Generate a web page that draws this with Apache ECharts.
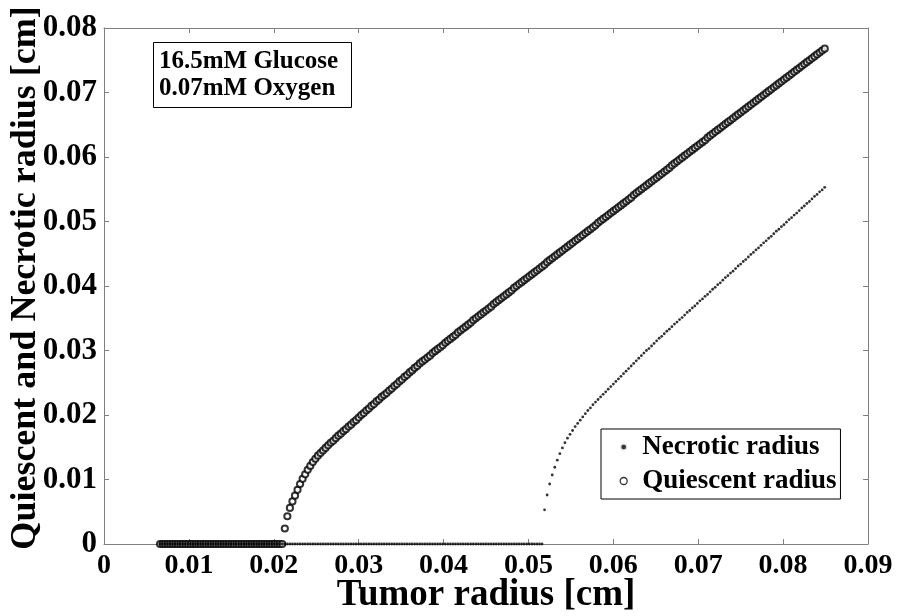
<!DOCTYPE html>
<html>
<head>
<meta charset="utf-8">
<script src="https://cdn.jsdelivr.net/npm/echarts@6/dist/echarts.min.js"></script>
<style>
html,body{margin:0;padding:0;background:#fff;}
#chart{width:899px;height:616px;}
</style>
</head>
<body>
<div id="chart"></div>
<script>
// Tumor radius samples [cm] (x values shared by both series)
var tumorRadius = [
0.0066,0.0069,0.0072,0.0075,0.0078,0.0081,0.0084,0.0087,0.0090,0.0093,
0.0096,0.0099,0.0102,0.0105,0.0108,0.0111,0.0114,0.0117,0.0120,0.0123,
0.0126,0.0129,0.0132,0.0135,0.0138,0.0141,0.0144,0.0147,0.0150,0.0153,
0.0156,0.0159,0.0162,0.0165,0.0168,0.0171,0.0174,0.0177,0.0180,0.0183,
0.0186,0.0189,0.0192,0.0195,0.0198,0.0201,0.0204,0.0207,0.0210,0.0213,
0.0216,0.0219,0.0222,0.0225,0.0228,0.0231,0.0234,0.0237,0.0240,0.0243,
0.0246,0.0249,0.0252,0.0255,0.0258,0.0261,0.0264,0.0267,0.0270,0.0273,
0.0276,0.0279,0.0282,0.0285,0.0288,0.0291,0.0294,0.0297,0.0300,0.0303,
0.0306,0.0309,0.0312,0.0315,0.0318,0.0321,0.0324,0.0327,0.0330,0.0333,
0.0336,0.0339,0.0342,0.0345,0.0348,0.0351,0.0354,0.0357,0.0360,0.0363,
0.0366,0.0369,0.0372,0.0375,0.0378,0.0381,0.0384,0.0387,0.0390,0.0393,
0.0396,0.0399,0.0402,0.0405,0.0408,0.0411,0.0414,0.0417,0.0420,0.0423,
0.0426,0.0429,0.0432,0.0435,0.0438,0.0441,0.0444,0.0447,0.0450,0.0453,
0.0456,0.0459,0.0462,0.0465,0.0468,0.0471,0.0474,0.0477,0.0480,0.0483,
0.0486,0.0489,0.0492,0.0495,0.0498,0.0501,0.0504,0.0507,0.0510,0.0513,
0.0516,0.0519,0.0522,0.0525,0.0528,0.0531,0.0534,0.0537,0.0540,0.0543,
0.0546,0.0549,0.0552,0.0555,0.0558,0.0561,0.0564,0.0567,0.0570,0.0573,
0.0576,0.0579,0.0582,0.0585,0.0588,0.0591,0.0594,0.0597,0.0600,0.0603,
0.0606,0.0609,0.0612,0.0615,0.0618,0.0621,0.0624,0.0627,0.0630,0.0633,
0.0636,0.0639,0.0642,0.0645,0.0648,0.0651,0.0654,0.0657,0.0660,0.0663,
0.0666,0.0669,0.0672,0.0675,0.0678,0.0681,0.0684,0.0687,0.0690,0.0693,
0.0696,0.0699,0.0702,0.0705,0.0708,0.0711,0.0714,0.0717,0.0720,0.0723,
0.0726,0.0729,0.0732,0.0735,0.0738,0.0741,0.0744,0.0747,0.0750,0.0753,
0.0756,0.0759,0.0762,0.0765,0.0768,0.0771,0.0774,0.0777,0.0780,0.0783,
0.0786,0.0789,0.0792,0.0795,0.0798,0.0801,0.0804,0.0807,0.0810,0.0813,
0.0816,0.0819,0.0822,0.0825,0.0828,0.0831,0.0834,0.0837,0.0840,0.0843,
0.0846,0.0849
];

// Quiescent radius [cm]
var quiescentRadius = [
0,0,0,0,0,0,0,0,0,0,
0,0,0,0,0,0,0,0,0,0,
0,0,0,0,0,0,0,0,0,0,
0,0,0,0,0,0,0,0,0,0,
0,0,0,0,0,0,0,0,0,0.0024,
0.0043,0.0056,0.0066,0.0075,0.0084,0.0093,0.0101,0.0108,0.0115,0.0121,
0.0127,0.0132,0.0137,0.0141,0.0145,0.0149,0.0153,0.0157,0.0160,0.0164,
0.0168,0.0171,0.0175,0.0178,0.0182,0.0185,0.0189,0.0192,0.0196,0.0200,
0.0203,0.0207,0.0210,0.0214,0.0217,0.0221,0.0224,0.0228,0.0231,0.0234,
0.0238,0.0241,0.0245,0.0248,0.0252,0.0255,0.0259,0.0262,0.0266,0.0269,
0.0273,0.0276,0.0280,0.0283,0.0286,0.0289,0.0292,0.0296,0.0299,0.0302,
0.0305,0.0308,0.0312,0.0315,0.0318,0.0321,0.0324,0.0328,0.0331,0.0334,
0.0337,0.0340,0.0343,0.0347,0.0350,0.0353,0.0356,0.0359,0.0362,0.0365,
0.0368,0.0372,0.0375,0.0378,0.0381,0.0384,0.0387,0.0390,0.0393,0.0397,
0.0400,0.0403,0.0406,0.0409,0.0412,0.0415,0.0418,0.0421,0.0424,0.0427,
0.0430,0.0433,0.0437,0.0440,0.0443,0.0446,0.0449,0.0452,0.0455,0.0458,
0.0461,0.0464,0.0467,0.0470,0.0473,0.0476,0.0479,0.0482,0.0485,0.0488,
0.0491,0.0494,0.0498,0.0501,0.0504,0.0507,0.0510,0.0513,0.0516,0.0519,
0.0522,0.0525,0.0528,0.0531,0.0534,0.0537,0.0541,0.0544,0.0547,0.0550,
0.0553,0.0556,0.0559,0.0562,0.0565,0.0568,0.0571,0.0574,0.0577,0.0580,
0.0583,0.0587,0.0590,0.0593,0.0596,0.0599,0.0602,0.0605,0.0608,0.0611,
0.0614,0.0617,0.0620,0.0623,0.0626,0.0630,0.0633,0.0636,0.0639,0.0642,
0.0645,0.0648,0.0651,0.0654,0.0657,0.0660,0.0663,0.0666,0.0669,0.0672,
0.0675,0.0678,0.0681,0.0684,0.0687,0.0690,0.0693,0.0696,0.0699,0.0702,
0.0705,0.0708,0.0711,0.0714,0.0717,0.0720,0.0723,0.0726,0.0729,0.0732,
0.0735,0.0738,0.0741,0.0744,0.0747,0.0750,0.0753,0.0756,0.0759,0.0762,
0.0765,0.0768
];

// Necrotic radius [cm]
var necroticRadius = [
0,0,0,0,0,0,0,0,0,0,
0,0,0,0,0,0,0,0,0,0,
0,0,0,0,0,0,0,0,0,0,
0,0,0,0,0,0,0,0,0,0,
0,0,0,0,0,0,0,0,0,0,
0,0,0,0,0,0,0,0,0,0,
0,0,0,0,0,0,0,0,0,0,
0,0,0,0,0,0,0,0,0,0,
0,0,0,0,0,0,0,0,0,0,
0,0,0,0,0,0,0,0,0,0,
0,0,0,0,0,0,0,0,0,0,
0,0,0,0,0,0,0,0,0,0,
0,0,0,0,0,0,0,0,0,0,
0,0,0,0,0,0,0,0,0,0,
0,0,0,0,0,0,0,0,0,0,
0,0.0053,0.0076,0.0093,0.0107,0.0119,0.0130,0.0140,0.0149,0.0157,
0.0164,0.0170,0.0176,0.0182,0.0187,0.0192,0.0197,0.0202,0.0207,0.0211,
0.0216,0.0220,0.0224,0.0228,0.0232,0.0236,0.0240,0.0244,0.0248,0.0252,
0.0256,0.0260,0.0264,0.0268,0.0272,0.0276,0.0280,0.0284,0.0288,0.0292,
0.0296,0.0300,0.0303,0.0307,0.0311,0.0315,0.0319,0.0322,0.0326,0.0330,
0.0333,0.0337,0.0341,0.0344,0.0348,0.0351,0.0355,0.0359,0.0362,0.0366,
0.0369,0.0373,0.0377,0.0380,0.0384,0.0387,0.0391,0.0395,0.0398,0.0402,
0.0405,0.0409,0.0413,0.0416,0.0420,0.0423,0.0427,0.0431,0.0434,0.0438,
0.0441,0.0445,0.0449,0.0452,0.0456,0.0459,0.0463,0.0467,0.0470,0.0474,
0.0477,0.0481,0.0485,0.0488,0.0492,0.0495,0.0499,0.0503,0.0506,0.0510,
0.0513,0.0517,0.0521,0.0524,0.0528,0.0531,0.0535,0.0539,0.0542,0.0546,
0.0549,0.0553
];

var seriesNames = ['Necrotic radius', 'Quiescent radius'];
var annotationLines = ['16.5mM Glucose', '0.07mM Oxygen'];
var xAxisTitle = 'Tumor radius [cm]';
var yAxisTitle = 'Quiescent and Necrotic radius [cm]';

var FONT = "'Liberation Serif','Times New Roman',serif";
var AXIS_COLOR = '#808080';

function tickFmt(v) { return v === 0 ? '0' : v.toFixed(2); }

var necroticData = tumorRadius.map(function (x, i) { return [x, necroticRadius[i]]; });
var quiescentData = tumorRadius.map(function (x, i) { return [x, quiescentRadius[i]]; });

var chart = echarts.init(document.getElementById('chart'), null, { renderer: 'canvas' });

function axisBase(extra) {
  var base = {
    type: 'value',
    axisLine: { show: true, onZero: false, lineStyle: { color: AXIS_COLOR, width: 1 } },
    axisTick: { show: true, inside: true, length: 5, lineStyle: { color: AXIS_COLOR, width: 1 } },
    splitLine: { show: false },
    axisLabel: { show: false }
  };
  for (var k in extra) base[k] = extra[k];
  return base;
}

chart.setOption({
  animation: false,
  backgroundColor: '#fff',
  grid: { left: 104, right: 31, top: 28, bottom: 72, containLabel: false, outerBoundsMode: 'none' },
  title: {
    text: annotationLines.join('\n'),
    left: 153, top: 42,
    borderColor: '#000', borderWidth: 1,
    padding: [6, 14, 6, 6],
    textStyle: { fontFamily: FONT, fontWeight: 'bold', fontSize: 25, lineHeight: 27, color: '#000' }
  },
  legend: {
    orient: 'vertical',
    left: 601, top: 429,
    borderColor: '#000', borderWidth: 1,
    padding: [3, 4, 3, 18],
    itemGap: 4,
    itemWidth: 7, itemHeight: 7,
    textStyle: { fontFamily: FONT, fontWeight: 'bold', fontSize: 27, lineHeight: 30, color: '#000', padding: [0, 0, 0, 10] },
    data: [
      { name: seriesNames[0], icon: 'circle', itemStyle: { color: '#000', borderColor: '#fff', borderWidth: 2.4 } },
      { name: seriesNames[1], icon: 'circle', itemStyle: { color: '#fff', borderColor: '#000', borderWidth: 1.3 } }
    ]
  },
  xAxis: [
    axisBase({
      position: 'bottom', min: 0, max: 0.09, interval: 0.01,
      axisLabel: { show: true, formatter: tickFmt, fontFamily: FONT, fontWeight: 'bold', fontSize: 28, color: '#000', margin: 8 },
      name: xAxisTitle, nameLocation: 'middle', nameGap: 33, nameMoveOverlap: false,
      nameTextStyle: { fontFamily: FONT, fontWeight: 'bold', fontSize: 37, color: '#000' }
    }),
    axisBase({ position: 'top', min: 0, max: 0.09, interval: 0.01 })
  ],
  yAxis: [
    axisBase({
      position: 'left', min: 0, max: 0.08, interval: 0.01,
      axisLabel: { show: true, formatter: tickFmt, fontFamily: FONT, fontWeight: 'bold', fontSize: 31, color: '#000', margin: 7 },
      name: yAxisTitle, nameLocation: 'middle', nameGap: 60, nameMoveOverlap: false,
      nameTextStyle: { fontFamily: FONT, fontWeight: 'bold', fontSize: 36, color: '#000', padding: [0, 0, 0, 16] }
    }),
    axisBase({ position: 'right', min: 0, max: 0.08, interval: 0.01 })
  ],
  series: [
    {
      name: seriesNames[0], type: 'scatter', xAxisIndex: 0, yAxisIndex: 0,
      symbol: 'circle', symbolSize: 2.8, clip: false,
      itemStyle: { color: '#000' },
      data: necroticData, z: 3
    },
    {
      name: seriesNames[1], type: 'scatter', xAxisIndex: 0, yAxisIndex: 0,
      symbol: 'emptyCircle', symbolSize: 6.2, clip: false,
      itemStyle: { color: '#000', borderColor: '#000', borderWidth: 1.5 },
      data: quiescentData, z: 2
    }
  ]
});
</script>
</body>
</html>
